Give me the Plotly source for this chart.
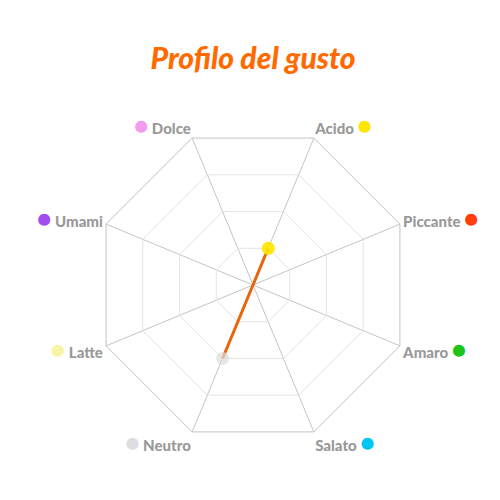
import plotly.graph_objects as go

sapori = ["Acido", "Piccante", "Amaro", "Salato", "Neutro", "Latte", "Umami", "Dolce"]
valori = [1, 0, 0, 0, 2, 0, 0, 0]
colori = ["#FFE600", "#FF3D0D", "#1CC41C", "#00C6F2", "#DDDDDD", "#F8F4A6", "#A24DF0", "#F29BEF"]
lato_destro = [True, True, True, True, False, False, False, False]

# etichette con il pallino colorato dal lato esterno
etichette = []
for nome, col, destro in zip(sapori, colori, lato_destro):
    pallino = "<span style='color:%s;font-size:24px'>●</span>" % col
    if destro:
        etichette.append(nome + " " + pallino)
    else:
        etichette.append(pallino + " " + nome)

fig = go.Figure()
fig.add_trace(go.Scatterpolar(
    r=valori + valori[:1],
    theta=sapori + sapori[:1],
    mode="lines+markers",
    line=dict(color="#E8650A", width=3),
    marker=dict(color=colori + colori[:1], size=[13, 0, 0, 0, 13, 0, 0, 0, 13],
                line=dict(width=0)),
    showlegend=False,
    hoverinfo="skip",
))

fig.update_layout(
    width=500,
    height=500,
    paper_bgcolor="white",
    margin=dict(l=86, r=96, t=118, b=64),
    title=dict(
        text="Profilo del gusto",
        x=0.49,
        y=0.9,
        xanchor="center",
        yanchor="middle",
        font=dict(family="Lato", size=30, color="#FF6A00", weight=900, style="italic"),
    ),
    polar=dict(
        bgcolor="white",
        gridshape="linear",
        radialaxis=dict(
            range=[0, 4],
            tickvals=[1, 2, 3, 4],
            showticklabels=False,
            ticks="",
            showline=False,
            gridcolor="#E3E3E3",
            gridwidth=1,
        ),
        angularaxis=dict(
            rotation=67.5,
            direction="clockwise",
            tickvals=sapori,
            ticktext=etichette,
            ticks="",
            linecolor="#C4C4C4",
            gridcolor="#C4C4C4",
            tickfont=dict(family="Lato", size=15, color="#999999", weight=900),
        ),
    ),
)

fig.write_html("out.html")
